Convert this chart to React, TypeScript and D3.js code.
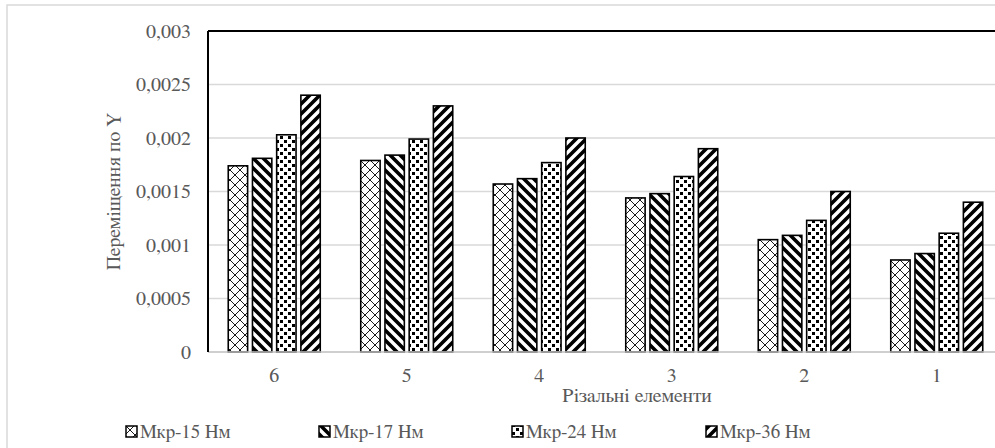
import React from "react";
import * as d3 from "d3";

const categories = ["6", "5", "4", "3", "2", "1"];
const seriesNames = ["Мкр-15 Нм", "Мкр-17 Нм", "Мкр-24 Нм", "Мкр-36 Нм"];
const s15 = [0.00174, 0.00179, 0.00157, 0.00144, 0.00105, 0.00086];
const s17 = [0.00181, 0.00184, 0.00162, 0.00148, 0.00109, 0.00092];
const s24 = [0.00203, 0.00199, 0.00177, 0.00164, 0.00123, 0.00111];
const s36 = [0.0024, 0.0023, 0.002, 0.0019, 0.0015, 0.0014];
const yTicks = [0, 0.0005, 0.001, 0.0015, 0.002, 0.0025, 0.003];
const yTickLabels = ["0", "0,0005", "0,001", "0,0015", "0,002", "0,0025", "0,003"];
const yTitle = "Переміщення по Y";
const xTitle = "Різальні елементи";

const seriesValues = [s15, s17, s24, s36];
const patternIds = ["pCross", "pDown", "pDots", "pUp"];

const FONT = "FreeSerif, 'Liberation Serif', serif";
const TXT = "#595959";
const textStyle: React.CSSProperties = { fontFamily: FONT, fontSize: 20 };
const legendStyle: React.CSSProperties = { fontFamily: FONT, fontSize: 19 };

export default function App() {
  const W = 995, H = 448;
  const left = 208, right = 1003, top = 31, bottom = 352;
  const x = d3.scaleBand<string>().domain(categories).range([left, right]).paddingInner(0).paddingOuter(0);
  const xs = d3.scaleBand<number>().domain([0, 1, 2, 3]).range([-46, 46]).paddingInner(0.2).paddingOuter(0);
  const y = d3.scaleLinear().domain([0, 0.003]).range([bottom, top]);

  const legendX = [126, 319, 512, 706];

  return (
    <svg width={W} height={H} style={{ position: "absolute", left: 0, top: 0, background: "#fff" }}>
      <defs>
        <pattern id="pCross" width={10} height={10} patternUnits="userSpaceOnUse">
          <rect width={10} height={10} fill="#fff" />
          <path d="M0,0 L10,10 M10,0 L0,10" stroke="#000" strokeWidth={0.9} />
        </pattern>
        <pattern id="pDown" width={10} height={10} patternUnits="userSpaceOnUse">
          <rect width={10} height={10} fill="#fff" />
          <path d="M-5,0 L10,15 M0,-5 L15,10 M-5,10 L0,15" stroke="#000" strokeWidth={3.6} />
        </pattern>
        <pattern id="pUp" width={10} height={10} patternUnits="userSpaceOnUse">
          <rect width={10} height={10} fill="#fff" />
          <path d="M-5,10 L10,-5 M0,15 L15,0 M5,20 L20,5" stroke="#000" strokeWidth={3.6} />
        </pattern>
        <pattern id="pDots" width={8} height={8} patternUnits="userSpaceOnUse">
          <rect width={8} height={8} fill="#fff" />
          <rect x={0} y={0} width={3} height={3} fill="#000" />
          <rect x={4} y={4} width={3} height={3} fill="#000" />
        </pattern>
      </defs>

      <rect x={7} y={5} width={1000} height={460} fill="#fff" stroke="#d9d9d9" strokeWidth={1.5} />

      {yTicks.filter((t) => t > 0 && t < 0.003).map((t) => (
        <line key={t} x1={left} x2={W} y1={y(t)} y2={y(t)} stroke="#d9d9d9" strokeWidth={1.5} />
      ))}

      {categories.map((c, ci) =>
        seriesValues.map((vals, si) => {
          const bx = (x(c) as number) + x.bandwidth() / 2 + (xs(si) as number);
          return (
            <rect
              key={c + "-" + si}
              x={bx}
              y={y(vals[ci])}
              width={xs.bandwidth()}
              height={bottom - y(vals[ci])}
              fill={`url(#${patternIds[si]})`}
              stroke="#000"
              strokeWidth={1.6}
            />
          );
        })
      )}

      <line x1={left} x2={W} y1={bottom} y2={bottom} stroke="#bfbfbf" strokeWidth={1.5} />
      <line x1={left} x2={W} y1={top} y2={top} stroke="#000" strokeWidth={2} />
      <line x1={left} x2={left} y1={top} y2={bottom} stroke="#000" strokeWidth={2} />

      {yTicks.map((t, i) => (
        <text key={t} x={191} y={y(t)} dy="0.33em" textAnchor="end" style={textStyle} fill={TXT}>
          {yTickLabels[i]}
        </text>
      ))}

      {categories.map((c) => (
        <text key={c} x={(x(c) as number) + x.bandwidth() / 2} y={375} dy="0.33em" textAnchor="middle" style={textStyle} fill={TXT}>
          {c}
        </text>
      ))}

      <text x={637} y={395} dy="0.33em" textAnchor="middle" style={textStyle} fill={TXT}>
        {xTitle}
      </text>

      <text transform={`translate(113,${(top + bottom) / 2}) rotate(-90)`} dy="0.33em" textAnchor="middle" style={textStyle} fill={TXT}>
        {yTitle}
      </text>

      {seriesNames.map((n, i) => (
        <g key={n}>
          <rect x={legendX[i]} y={426} width={11} height={11} fill={`url(#${patternIds[i]})`} stroke="#000" strokeWidth={1.5} />
          <text x={legendX[i] + 14} y={432} dy="0.33em" style={legendStyle} fill={TXT}>
            {n}
          </text>
        </g>
      ))}
    </svg>
  );
}
